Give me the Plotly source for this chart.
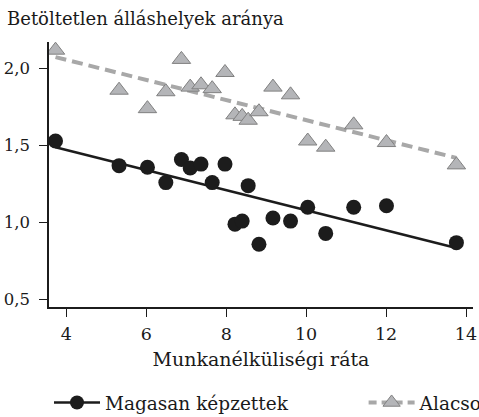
import plotly.graph_objects as go

# Data
unemployment = [3.73, 5.32, 6.03, 6.49, 6.88, 7.10, 7.37, 7.65, 7.97, 8.22,
                8.40, 8.55, 8.82, 9.17, 9.61, 10.04, 10.49, 11.19, 12.01, 13.76]
high_skilled = [1.53, 1.37, 1.36, 1.26, 1.41, 1.355, 1.38, 1.26, 1.38, 0.99,
                1.01, 1.24, 0.86, 1.03, 1.01, 1.10, 0.93, 1.10, 1.11, 0.87]
low_skilled = [2.12, 1.86, 1.74, 1.85, 2.06, 1.88, 1.895, 1.87, 1.975, 1.70,
               1.69, 1.665, 1.72, 1.88, 1.83, 1.53, 1.49, 1.635, 1.52, 1.375]
trend_x = [3.73, 13.76]
high_trend = [1.49, 0.835]
low_trend = [2.075, 1.42]

y_ticks = [0.5, 1.0, 1.5, 2.0]
y_grid = [1.0, 1.5, 2.0]
x_ticks = [4, 6, 8, 10, 12, 14]

name_high = "Magasan képzettek"
name_low = "Alacsonyan képzettek"
title_y = "Betöltetlen álláshelyek aránya"
title_x = "Munkanélküliségi ráta"

FONT = "DejaVu Serif"
TXT = "#1a1a1a"
BLACK = "#1c1c1c"
GREY_FILL = "#b4b5b8"
GREY_EDGE = "#808080"
GREY_LINE = "#a8a8a8"

fig = go.Figure()

fig.add_trace(go.Scatter(x=trend_x, y=low_trend, mode="lines",
                         line=dict(color=GREY_LINE, width=4, dash="11px,6px"),
                         showlegend=False, hoverinfo="skip"))
fig.add_trace(go.Scatter(x=unemployment, y=low_skilled, mode="markers",
                         marker=dict(symbol="triangle-up", size=16, color=GREY_FILL,
                                     line=dict(color=GREY_EDGE, width=1)),
                         showlegend=False))
fig.add_trace(go.Scatter(x=trend_x, y=high_trend, mode="lines",
                         line=dict(color=BLACK, width=2.5),
                         showlegend=False, hoverinfo="skip"))
fig.add_trace(go.Scatter(x=unemployment, y=high_skilled, mode="markers",
                         marker=dict(symbol="circle", size=15, color=BLACK,
                                     line=dict(width=0)),
                         showlegend=False))

# legend entries
fig.add_trace(go.Scatter(x=[None], y=[None], mode="lines+markers", name=name_high,
                         line=dict(color=BLACK, width=2.5),
                         marker=dict(symbol="circle", size=14, color=BLACK),
                         legend="legend"))
fig.add_trace(go.Scatter(x=[None], y=[None], mode="lines+markers", name=name_low,
                         line=dict(color=GREY_LINE, width=4, dash="8px,5px"),
                         marker=dict(symbol="triangle-up", size=15, color=GREY_FILL,
                                     line=dict(color=GREY_EDGE, width=1)),
                         legend="legend2"))

legend_font = dict(family=FONT, size=18.5, color=TXT)

fig.update_layout(
    width=479, height=417,
    margin=dict(l=49, r=6, t=42, b=110, autoexpand=False),
    paper_bgcolor="white", plot_bgcolor="white",
    font=dict(family=FONT, size=17, color=TXT),
    separators=", ",
    showlegend=True,
    legend=dict(x=0.0, y=-0.362, xanchor="left", yanchor="middle",
                itemwidth=46, font=legend_font, bgcolor="rgba(0,0,0,0)"),
    legend2=dict(x=0.742, y=-0.362, xanchor="left", yanchor="middle",
                 itemwidth=46, font=legend_font, bgcolor="rgba(0,0,0,0)"),
    xaxis=dict(range=[3.567, 14.175], tickvals=x_ticks, ticks="outside",
               ticklen=8, tickwidth=1.2, tickcolor=BLACK,
               showline=True, linecolor=BLACK, linewidth=1.5,
               showgrid=False, zeroline=False, ticklabelstandoff=2,
               tickfont=dict(family=FONT, size=17.5, color=TXT),
               title=dict(text=title_x, font=dict(family=FONT, size=19, color=TXT),
                          standoff=10)),
    yaxis=dict(range=[0.452, 2.173], tickvals=y_ticks, tickformat=".1f",
               ticks="outside", ticklen=8, tickwidth=1.2, tickcolor=BLACK,
               showline=True, linecolor=BLACK, linewidth=1.5,
               showgrid=False, zeroline=False, ticklabelstandoff=6,
               tickfont=dict(family=FONT, size=16.5, color=TXT)),
    yaxis2=dict(range=[0.452, 2.173], overlaying="y", anchor="x",
                tickvals=y_grid, showgrid=True, gridcolor="#d9d9d9", gridwidth=1.2,
                showticklabels=False, ticks="", showline=False, zeroline=False),
    annotations=[dict(text=title_y, xref="paper", yref="paper", x=-0.1038, y=1.090,
                      xanchor="left", yanchor="middle", showarrow=False,
                      font=dict(family=FONT, size=18, color=TXT))],
)

fig.write_html("out.html", config={"displayModeBar": False},
               post_script="document.body.style.margin='0px';")
